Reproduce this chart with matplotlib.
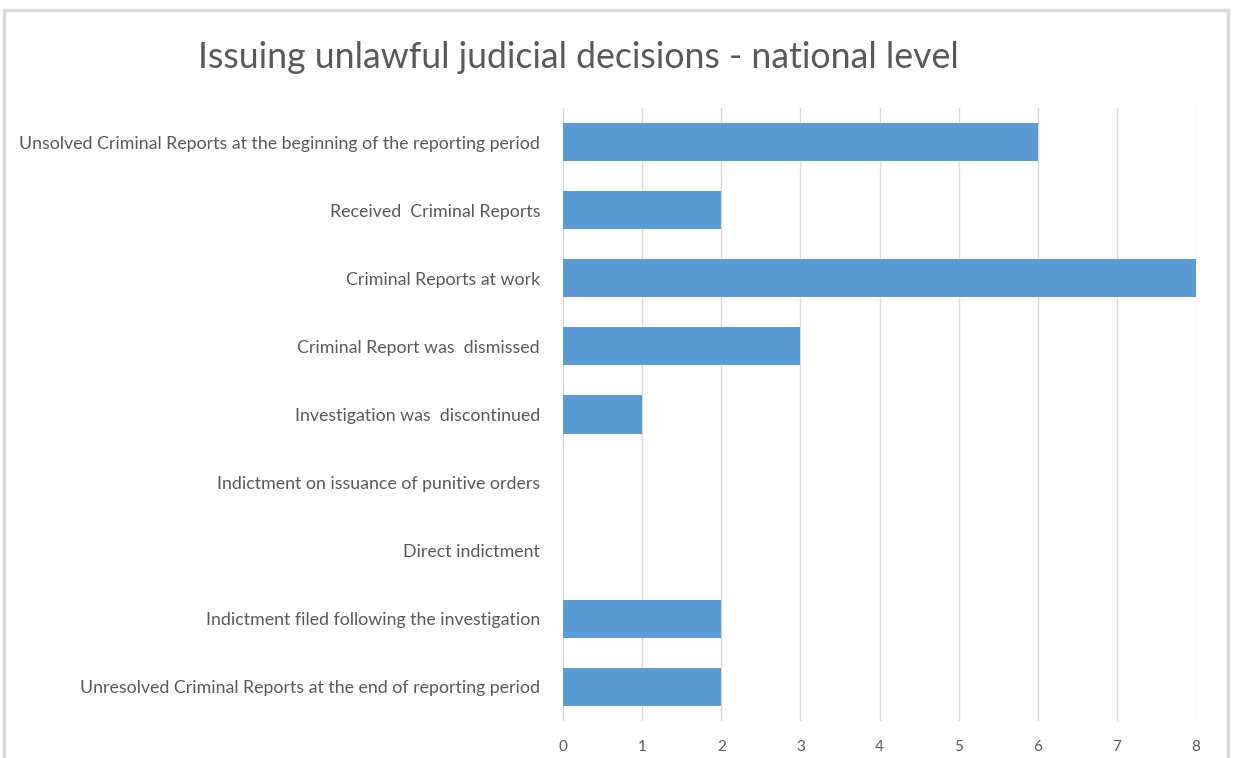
import matplotlib.pyplot as plt
from matplotlib.patches import Rectangle

plt.rcParams['font.family'] = ['Lato', 'DejaVu Sans']

categories = [
    "Unsolved Criminal Reports at the beginning of the reporting period",
    "Received  Criminal Reports",
    "Criminal Reports at work",
    "Criminal Report was  dismissed",
    "Investigation was  discontinued",
    "Indictment on issuance of punitive orders",
    "Direct indictment",
    "Indictment filed following the investigation",
    "Unresolved Criminal Reports at the end of reporting period",
]
values = [6, 2, 8, 3, 1, 0, 0, 2, 2]
x_ticks = [0, 1, 2, 3, 4, 5, 6, 7, 8]

text_color = "#595959"
bar_color = "#5B9BD5"

fig = plt.figure(figsize=(12.35, 7.58), dpi=100)
# outer chart frame
fig.patches.append(Rectangle((4 / 1235, -0.05), 1224 / 1235, 1 - 10 / 758 + 0.05,
                             transform=fig.transFigure, fill=False,
                             edgecolor="#D9D9D9", linewidth=2.5))

ax = fig.add_axes([563 / 1235, 1 - 721 / 758, 633 / 1235, 613 / 758])
ypos = list(range(len(categories)))
ax.barh(ypos, values, height=0.56, color=bar_color, zorder=3)
ax.set_ylim(len(categories) - 0.5, -0.5)
ax.set_xlim(0, 8)
ax.set_xticks(x_ticks)
ax.set_xticklabels([str(t) for t in x_ticks])
ax.set_yticks(ypos)
ax.set_yticklabels(categories)
ax.tick_params(axis="both", length=0, colors=text_color)
ax.tick_params(axis="x", pad=14, labelsize=11)
ax.tick_params(axis="y", pad=16.5, labelsize=12.8)
ax.grid(axis="x", color="#D9D9D9", linewidth=1, zorder=0)
for s in ax.spines.values():
    s.set_visible(False)

fig.text(578 / 1235, 1 - 58 / 758, "Issuing unlawful judicial decisions - national level",
         ha="center", va="center", fontsize=25.7, color=text_color)

fig.savefig("out.png", dpi=100)
